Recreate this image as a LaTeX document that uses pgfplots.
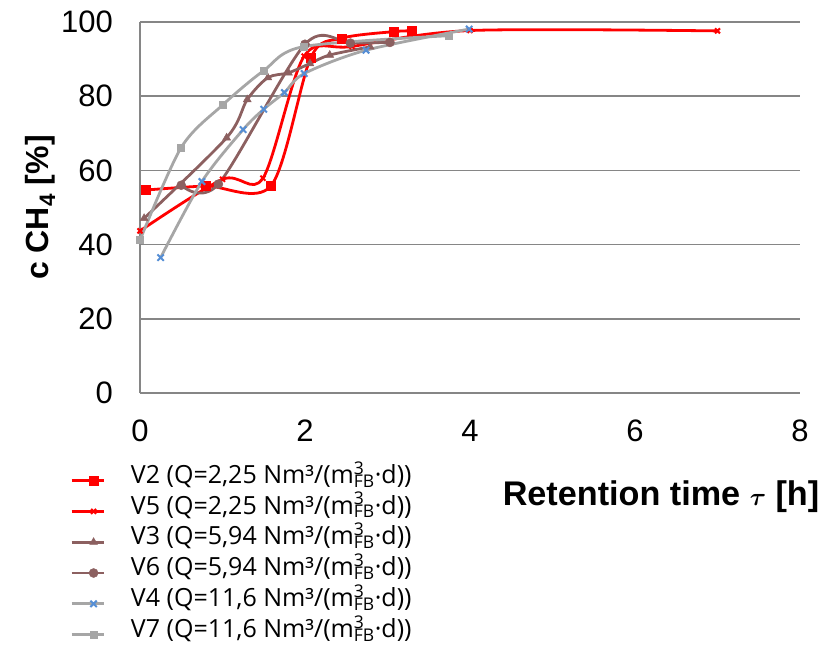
\documentclass[border=0pt]{standalone}
\usepackage{fontspec}
\setmainfont{Liberation Sans}
\newfontfamily\legfont{Open Sans}
\usepackage{pgfplots}
\pgfplotsset{compat=1.18}

\definecolor{gridgray}{RGB}{134,134,134}
\definecolor{vred}{RGB}{255,0,0}
\definecolor{vbrown}{RGB}{140,96,96}
\definecolor{vgray}{RGB}{166,166,166}
\definecolor{vblue}{RGB}{85,142,213}

\begin{document}
\begin{tikzpicture}[x=1pt,y=1pt]
\path[use as bounding box] (-140,-261) rectangle (695,393);
\begin{axis}[
    at={(0,0)}, anchor=south west,
    scale only axis, width=660pt, height=371pt,
    xmin=0, xmax=8, ymin=0, ymax=100,
    xtick={0,2,...,8}, ytick={0,20,...,100},
    axis x line*=bottom, axis y line*=left,
    axis line style={gridgray, line width=1.5pt},
    ymajorgrids, grid style={gridgray, line width=1.5pt},
    major tick length=0pt,
    /pgf/number format/assume math mode=true,
    tick label style={font=\fontsize{31}{36}\selectfont},
    yticklabel style={anchor=east, inner sep=0pt, xshift=-27pt},
    xticklabel style={anchor=north, inner sep=0pt, yshift=-27pt},
    xlabel={Retention time {\boldmath$\tau$} [h]},
    xlabel style={font=\bfseries\fontsize{34.2}{38}\selectfont, at={(axis description cs:0,0)}, anchor=center, xshift=521pt, yshift=-104pt},
    ylabel={c CH\textsubscript{4} [\%]},
    ylabel style={font=\bfseries\fontsize{32}{38}\selectfont, at={(axis description cs:-0.1515,0.5)}, anchor=center},
    clip=false,
    legend style={at={(axis description cs:0,0)}, anchor=north west, xshift=-70pt, yshift=-72pt,
        draw=none, fill=none, inner sep=0pt,
        font=\legfont\fontsize{25}{30}\selectfont,
        nodes={inner sep=0pt, text height=18pt, text depth=12.8pt},
        /tikz/every odd column/.append style={column sep=26pt}},
    legend cell align=left,
    legend image code/.code={\draw[mark repeat=2,mark phase=2,#1] plot coordinates {(0pt,0pt) (22pt,0pt) (32pt,0pt)};},
    every axis plot/.append style={line width=2.8pt, smooth},
]

\addplot[color=vred, mark=square*, mark size=4.5pt, mark options={solid, line width=0.5pt}]
coordinates {(0.07,54.7)(0.8,55.8)(1.59,55.9)(2.07,90.4)(2.44,95.6)(3.07,97.4)(3.29,97.6)};
\addlegendentry{V2 (Q=2,25 Nm³/(m\rlap{\textsuperscript{3}}\textsubscript{FB}·d))}

\addplot[color=vred, mark=x, mark size=3.5pt, mark options={solid, line width=2pt}]
coordinates {(0,43.7)(1.0,57.6)(1.49,57.9)(1.99,90.8)(2.57,93.4)(4.0,97.7)(7.0,97.6)};
\addlegendentry{V5 (Q=2,25 Nm³/(m\rlap{\textsuperscript{3}}\textsubscript{FB}·d))}

\addplot[color=vbrown, mark=triangle*, mark size=4.5pt, mark options={solid, line width=0.5pt}]
coordinates {(0.05,47.1)(1.05,68.8)(1.3,79.1)(1.55,85)(1.8,86.3)(2.06,88.8)(2.3,91.1)(2.79,93.3)};
\addlegendentry{V3 (Q=5,94 Nm³/(m\rlap{\textsuperscript{3}}\textsubscript{FB}·d))}

\addplot[color=vbrown, mark=*, mark size=4.5pt, mark options={solid, line width=0.5pt}]
coordinates {(0.5,56)(0.95,56.3)(2.0,94)(2.55,94.3)(3.03,94.5)};
\addlegendentry{V6 (Q=5,94 Nm³/(m\rlap{\textsuperscript{3}}\textsubscript{FB}·d))}

\addplot[color=vgray, mark=x, mark size=4.5pt, mark options={solid, draw=vblue, line width=2pt}]
coordinates {(0.25,36.5)(0.75,57)(1.25,71)(1.5,76.5)(1.75,81)(1.99,86.1)(2.74,92.4)(3.99,98.1)};
\addlegendentry{V4 (Q=11,6 Nm³/(m\rlap{\textsuperscript{3}}\textsubscript{FB}·d))}

\addplot[color=vgray, mark=square*, mark size=3.5pt, mark options={solid, line width=0.5pt}]
coordinates {(0.0,41.2)(0.5,66.2)(1.0,77.6)(1.5,86.9)(1.99,93.4)(3.74,96.3)};
\addlegendentry{V7 (Q=11,6 Nm³/(m\rlap{\textsuperscript{3}}\textsubscript{FB}·d))}

\end{axis}
\end{tikzpicture}
\end{document}
